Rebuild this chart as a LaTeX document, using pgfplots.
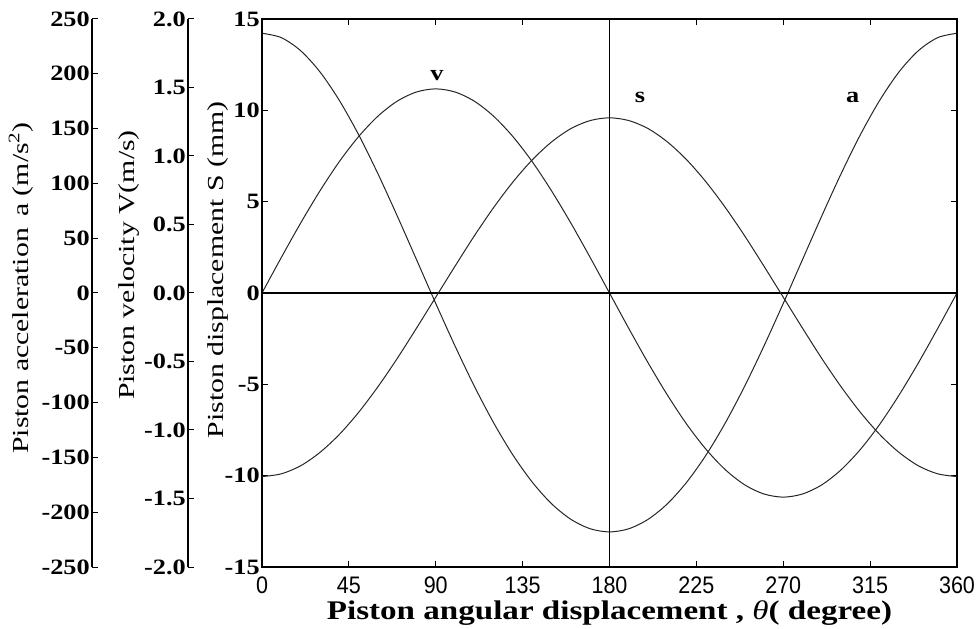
\documentclass[border=0pt]{standalone}
\usepackage{fontspec}
\setmainfont{Liberation Serif}
\newfontfamily\tickfont[FakeStretch=1.2]{Liberation Serif}
\newfontfamily\labfont[FakeStretch=1.3]{Liberation Serif}
\newfontfamily\xlabfont[FakeStretch=1.23]{Liberation Serif}
\newfontfamily\xtickfont[FakeStretch=0.9]{Liberation Sans}
\usepackage{pgfplots}
\usetikzlibrary{calc}
\pgfplotsset{compat=1.18}

% crank angle (deg), displacement s (mm), velocity v (m/s), acceleration a (m/s^2)
\pgfplotstableread{
th   s       v       a
0    -10.05  0.000   237.0
10   -9.90   0.259   233.0
20   -9.46   0.510   221.1
30   -8.73   0.745   201.8
40   -7.75   0.958   175.9
50   -6.54   1.141   144.6
60   -5.14   1.290   109.0
70   -3.59   1.400   70.5
80   -1.93   1.467   30.6
90   -0.23   1.490   -9.5
100  1.47    1.467   -48.4
110  3.13    1.400   -85.1
120  4.68    1.290   -118.5
130  6.08    1.141   -147.9
140  7.29    0.958   -172.6
150  8.27    0.745   -192.3
160  9.00    0.510   -206.5
170  9.44    0.259   -215.1
180  9.59    0.000   -218.0
190  9.44    -0.259  -215.1
200  9.00    -0.510  -206.5
210  8.27    -0.745  -192.3
220  7.29    -0.958  -172.6
230  6.08    -1.141  -147.9
240  4.68    -1.290  -118.5
250  3.13    -1.400  -85.1
260  1.47    -1.467  -48.4
270  -0.23   -1.490  -9.5
280  -1.93   -1.467  30.6
290  -3.59   -1.400  70.5
300  -5.14   -1.290  109.0
310  -6.54   -1.141  144.6
320  -7.75   -0.958  175.9
330  -8.73   -0.745  201.8
340  -9.46   -0.510  221.1
350  -9.90   -0.259  233.0
360  -10.05  0.000   237.0
}\kin

\tikzset{ticklab/.style={font=\fontsize{22}{22}\tickfont\bfseries}}
\pgfplotsset{
  sideaxis/.style={
    scale only axis, width=1bp, height=548bp, xmin=0, xmax=1,
    hide x axis, axis y line=left,
    y axis line style={-, line width=1.3bp},
    tick align=inside, major tick length=6bp,
    every tick/.style={black, line width=1bp},
    /pgf/number format/assume math mode=true,
    yticklabel style={ticklab, inner sep=2bp},
    ylabel style={font=\fontsize{23}{23}\labfont, anchor=center},
  },
  overlay/.style={
    at={(0,0)}, anchor=south west,
    scale only axis, width=695bp, height=548bp,
    xmin=0, xmax=360, hide axis,
  },
  curve/.style={black!85, line width=1bp, smooth},
}

\begin{document}
\begin{tikzpicture}
% acceleration scale
\begin{axis}[sideaxis, at={(-170bp,0)}, anchor=south west,
  ymin=-250, ymax=250, ytick={-250,-200,...,250},
  ylabel={Piston acceleration \,a (m/s\textsuperscript{2})},
  ylabel style={at={($(axis description cs:0,0.509)+(-71bp,0)$)}}]
\end{axis}
% velocity scale
\begin{axis}[sideaxis, at={(-74bp,0)}, anchor=south west,
  ymin=-2, ymax=2, ytick={-2,-1.5,...,2},
  yticklabel style={/pgf/number format/.cd, fixed, fixed zerofill, precision=1},
  ylabel={Piston velocity V(m/s)},
  ylabel style={at={($(axis description cs:0,0.551)+(-59bp,0)$)}}]
\end{axis}
% velocity and acceleration curves
\begin{axis}[overlay, ymin=-2, ymax=2]
  \addplot[curve] table[x=th, y=v] {\kin};
\end{axis}
\begin{axis}[overlay, ymin=-250, ymax=250]
  \addplot[curve] table[x=th, y=a] {\kin};
\end{axis}
% main axis: displacement
\begin{axis}[
  at={(0,0)}, anchor=south west,
  scale only axis, width=695bp, height=548bp,
  xmin=0, xmax=360, ymin=-15, ymax=15,
  xtick={0,45,...,360}, ytick={-15,-10,...,15},
  tick align=inside, major tick length=6bp,
  axis line style={line width=1.3bp},
  every tick/.style={black, line width=0.9bp},
  /pgf/number format/assume math mode=true,
  xticklabel style={font=\fontsize{24}{24}\xtickfont, anchor=base, inner sep=0pt, yshift=-26bp},
  yticklabel style={ticklab, inner sep=2bp},
  xlabel={\textbf{Piston angular displacement , {\mdseries\itshape θ}( degree)}},
  xlabel style={font=\fontsize{27}{27}\xlabfont, at={(axis description cs:0.5,0)}, anchor=base, inner sep=0pt, yshift=-52bp},
  ylabel={Piston displacement S (mm)},
  ylabel style={font=\fontsize{23}{23}\labfont, at={($(axis description cs:0,0.542)+(-44bp,0)$)}, anchor=center},
]
  \addplot[black, line width=1.1bp] coordinates {(0,0) (360,0)};
  \addplot[black, line width=1.1bp] coordinates {(180,-15) (180,15)};
  \addplot[curve] table[x=th, y=s] {\kin};
  \node[ticklab] at (axis cs:90.6,11.9) {v};
  \node[ticklab] at (axis cs:195.8,10.7) {s};
  \node[ticklab] at (axis cs:306,10.7) {a};
\end{axis}
\pgfresetboundingbox
\useasboundingbox (-262bp,-62bp) rectangle (715bp,567bp);
\end{tikzpicture}
\end{document}
